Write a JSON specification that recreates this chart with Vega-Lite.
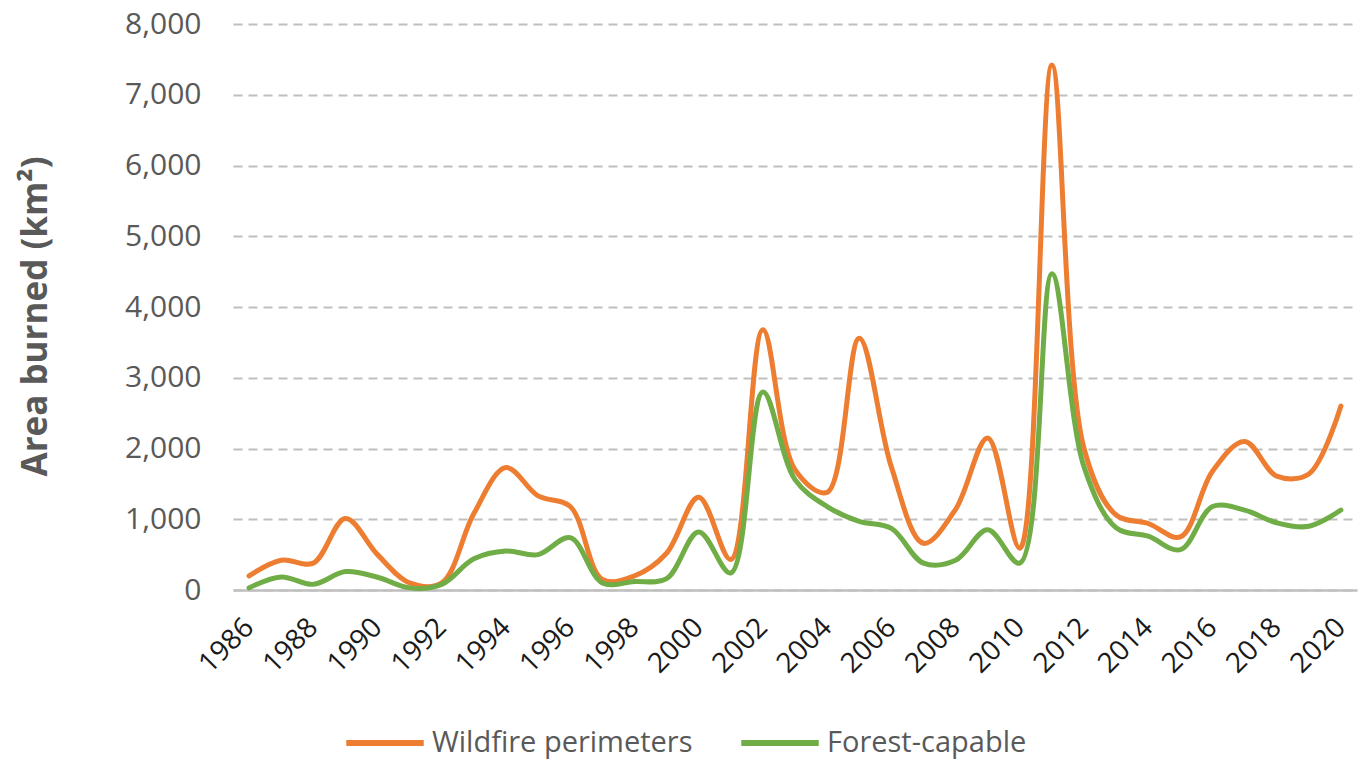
{
  "$schema": "https://vega.github.io/schema/vega-lite/v6.json",
  "autosize": {"type": "none"},
  "width": 1124,
  "height": 566,
  "padding": {"left": 233, "top": 24, "right": 6, "bottom": 173},
  "background": "white",
  "config": {"view": {"stroke": null}, "font": "Open Sans"},
  "data": {"values": [
    {"year": 1986, "series": "Wildfire perimeters", "value": 200},
    {"year": 1987, "series": "Wildfire perimeters", "value": 420},
    {"year": 1988, "series": "Wildfire perimeters", "value": 380},
    {"year": 1989, "series": "Wildfire perimeters", "value": 1010},
    {"year": 1990, "series": "Wildfire perimeters", "value": 500},
    {"year": 1991, "series": "Wildfire perimeters", "value": 100},
    {"year": 1992, "series": "Wildfire perimeters", "value": 100},
    {"year": 1993, "series": "Wildfire perimeters", "value": 1080},
    {"year": 1994, "series": "Wildfire perimeters", "value": 1730},
    {"year": 1995, "series": "Wildfire perimeters", "value": 1330},
    {"year": 1996, "series": "Wildfire perimeters", "value": 1180},
    {"year": 1997, "series": "Wildfire perimeters", "value": 150},
    {"year": 1998, "series": "Wildfire perimeters", "value": 200},
    {"year": 1999, "series": "Wildfire perimeters", "value": 520},
    {"year": 2000, "series": "Wildfire perimeters", "value": 1310},
    {"year": 2001, "series": "Wildfire perimeters", "value": 430},
    {"year": 2002, "series": "Wildfire perimeters", "value": 3680},
    {"year": 2003, "series": "Wildfire perimeters", "value": 1700},
    {"year": 2004, "series": "Wildfire perimeters", "value": 1380},
    {"year": 2005, "series": "Wildfire perimeters", "value": 3560},
    {"year": 2006, "series": "Wildfire perimeters", "value": 1740},
    {"year": 2007, "series": "Wildfire perimeters", "value": 660},
    {"year": 2008, "series": "Wildfire perimeters", "value": 1140},
    {"year": 2009, "series": "Wildfire perimeters", "value": 2150},
    {"year": 2010, "series": "Wildfire perimeters", "value": 590},
    {"year": 2011, "series": "Wildfire perimeters", "value": 7420},
    {"year": 2012, "series": "Wildfire perimeters", "value": 2000},
    {"year": 2013, "series": "Wildfire perimeters", "value": 1060},
    {"year": 2014, "series": "Wildfire perimeters", "value": 940},
    {"year": 2015, "series": "Wildfire perimeters", "value": 750},
    {"year": 2016, "series": "Wildfire perimeters", "value": 1680},
    {"year": 2017, "series": "Wildfire perimeters", "value": 2100},
    {"year": 2018, "series": "Wildfire perimeters", "value": 1610},
    {"year": 2019, "series": "Wildfire perimeters", "value": 1640},
    {"year": 2020, "series": "Wildfire perimeters", "value": 2600},
    {"year": 1986, "series": "Forest-capable", "value": 30},
    {"year": 1987, "series": "Forest-capable", "value": 185},
    {"year": 1988, "series": "Forest-capable", "value": 80},
    {"year": 1989, "series": "Forest-capable", "value": 260},
    {"year": 1990, "series": "Forest-capable", "value": 180},
    {"year": 1991, "series": "Forest-capable", "value": 30},
    {"year": 1992, "series": "Forest-capable", "value": 80},
    {"year": 1993, "series": "Forest-capable", "value": 440},
    {"year": 1994, "series": "Forest-capable", "value": 550},
    {"year": 1995, "series": "Forest-capable", "value": 500},
    {"year": 1996, "series": "Forest-capable", "value": 740},
    {"year": 1997, "series": "Forest-capable", "value": 100},
    {"year": 1998, "series": "Forest-capable", "value": 120},
    {"year": 1999, "series": "Forest-capable", "value": 160},
    {"year": 2000, "series": "Forest-capable", "value": 820},
    {"year": 2001, "series": "Forest-capable", "value": 240},
    {"year": 2002, "series": "Forest-capable", "value": 2800},
    {"year": 2003, "series": "Forest-capable", "value": 1560},
    {"year": 2004, "series": "Forest-capable", "value": 1180},
    {"year": 2005, "series": "Forest-capable", "value": 970},
    {"year": 2006, "series": "Forest-capable", "value": 870},
    {"year": 2007, "series": "Forest-capable", "value": 380},
    {"year": 2008, "series": "Forest-capable", "value": 420},
    {"year": 2009, "series": "Forest-capable", "value": 850},
    {"year": 2010, "series": "Forest-capable", "value": 380},
    {"year": 2011, "series": "Forest-capable", "value": 4470},
    {"year": 2012, "series": "Forest-capable", "value": 1740},
    {"year": 2013, "series": "Forest-capable", "value": 880},
    {"year": 2014, "series": "Forest-capable", "value": 760},
    {"year": 2015, "series": "Forest-capable", "value": 570},
    {"year": 2016, "series": "Forest-capable", "value": 1180},
    {"year": 2017, "series": "Forest-capable", "value": 1130},
    {"year": 2018, "series": "Forest-capable", "value": 950},
    {"year": 2019, "series": "Forest-capable", "value": 900},
    {"year": 2020, "series": "Forest-capable", "value": 1130}
  ]},
  "mark": {"type": "line", "interpolate": "catmull-rom", "strokeWidth": 5, "strokeCap": "round"},
  "encoding": {
    "x": {
      "field": "year", "type": "quantitative",
      "scale": {"domain": [1985.5, 2020.5], "nice": false, "zero": false},
      "axis": {
        "title": null,
        "values": [1986, 1988, 1990, 1992, 1994, 1996, 1998, 2000, 2002, 2004, 2006, 2008, 2010, 2012, 2014, 2016, 2018, 2020],
        "format": "d",
        "labelAngle": -45,
        "labelAlign": "right",
        "labelBaseline": "middle",
        "labelPadding": 33,
        "labelFontSize": 28,
        "labelColor": "#1a1a1a",
        "labelFont": "Open Sans",
        "ticks": false,
        "grid": false,
        "domain": true,
        "domainColor": "#BFBFBF",
        "domainWidth": 2.5,
        "labelOverlap": false,
        "labelFlush": false
      }
    },
    "y": {
      "field": "value", "type": "quantitative",
      "scale": {"domain": [0, 8000], "nice": false},
      "axis": {
        "title": "Area burned (km²)",
        "values": [0, 1000, 2000, 3000, 4000, 5000, 6000, 7000, 8000],
        "format": ",d",
        "labelFontSize": 30,
        "labelColor": "#595959",
        "labelFont": "Open Sans",
        "labelPadding": 32,
        "ticks": false,
        "domain": false,
        "grid": true,
        "gridColor": "#BFBFBF",
        "gridWidth": 2,
        "gridDash": [9, 6],
        "titleFont": "Open Sans",
        "titleFontSize": 35,
        "titleFontWeight": "bold",
        "titleColor": "#595959",
        "titleAngle": 270,
        "titleX": -198,
        "titleY": 292,
        "titleAlign": "center",
        "titleBaseline": "middle"
      }
    },
    "color": {
      "field": "series", "type": "nominal",
      "scale": {"domain": ["Wildfire perimeters", "Forest-capable"], "range": ["#ED7D31", "#70AD47"]},
      "legend": {
        "title": null,
        "orient": "none",
        "direction": "horizontal",
        "legendX": 110,
        "legendY": 677,
        "symbolType": "stroke",
        "symbolSize": 6000,
        "symbolStrokeWidth": 6,
        "labelFontSize": 29,
        "labelColor": "#595959",
        "labelFont": "Open Sans",
        "labelOffset": 5,
        "columnPadding": 36,
        "padding": 0,
        "labelLimit": 400
      }
    },
    "order": {"field": "year", "type": "quantitative"}
  }
}
